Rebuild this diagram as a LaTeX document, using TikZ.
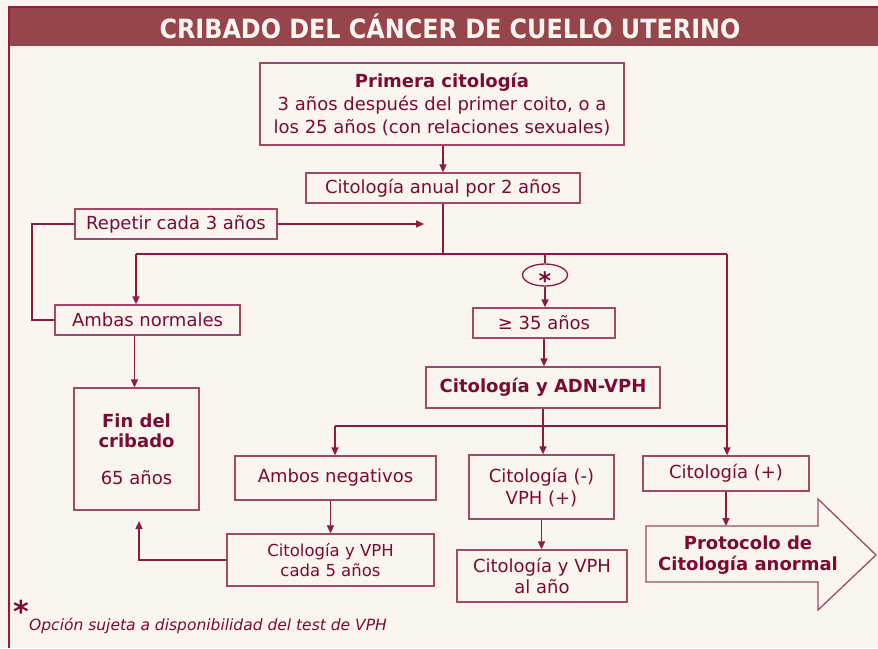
\documentclass[tikz,border=0pt]{standalone}
\usepackage{fontspec}
\setmainfont{DejaVu Sans}
\newfontfamily\titlefont[FakeStretch=0.9]{DejaVu Sans}
\usetikzlibrary{arrows.meta,shapes.geometric}
\definecolor{bg}{HTML}{FBF5F0}
\definecolor{bar}{HTML}{96464B}
\definecolor{frame}{HTML}{A0163D}
\definecolor{txt}{HTML}{7A0C33}
\definecolor{ln}{HTML}{8C1A42}
\definecolor{bx}{HTML}{A04A68}
\tikzset{
  box/.style={draw=bx, line width=1.3pt, inner sep=0pt, align=center, text=txt,
    font=\fontsize{18}{23}\selectfont},
  conn/.style={draw=ln, line width=1.4pt},
  arr/.style={conn, -{Triangle[length=8pt,width=7pt]}},
}
\begin{document}
\begin{tikzpicture}[x=1pt,y=-1pt]
\useasboundingbox (0,0) rectangle (878,648);
\fill[bg] (0,0) rectangle (878,648);
% frame and title
\fill[bar] (9,7) rectangle (878,46);
\draw[frame, line width=2pt] (9,648) -- (9,7) -- (878,7);
\node[anchor=base, inner sep=0pt, text=bg, font=\titlefont\bfseries\fontsize{26.5}{28}\selectfont] (title) at (450,38.5) {CRIBADO DEL CÁNCER DE CUELLO UTERINO};

% boxes
\node[box, minimum width=364pt, minimum height=82pt] (p) at (442,104)
  {{\bfseries Primera citología}\\3 años después del primer coito, o a\\los 25 años (con relaciones sexuales)};
\node[box, minimum width=274pt, minimum height=30pt] (anual) at (443,188) {Citología anual por 2 años};
\node[box, minimum width=202pt, minimum height=30pt] (rep) at (176,224) {Repetir cada 3 años};
\node[box, minimum width=185pt, minimum height=30pt] (amb) at (147.5,320) {Ambas normales};
\node[box, minimum width=125pt, minimum height=122pt, font=\fontsize{18}{20}\selectfont] (fin) at (136.5,449)
  {{\bfseries Fin del}\\{\bfseries cribado}\\[17pt]65 años};
\node[draw=ln, line width=1.3pt, ellipse, minimum width=45pt, minimum height=22pt, inner sep=0pt,
  text=txt, font=\bfseries\fontsize{24}{24}\selectfont] (ell) at (545,275) {\smash{\raisebox{-14pt}{*}}};
\node[box, minimum width=142pt, minimum height=30pt] (g35) at (544,323) {≥ 35 años};
\node[box, minimum width=234pt, minimum height=41pt, font=\bfseries\fontsize{18}{23}\selectfont] (adn) at (543,387.5) {Citología y ADN-VPH};
\node[box, minimum width=201pt, minimum height=44pt] (neg) at (335.5,478) {Ambos negativos};
\node[box, minimum width=145pt, minimum height=64pt, font=\fontsize{18}{22}\selectfont] (cvp) at (541.5,487) {Citología (-)\\VPH (+)};
\node[box, minimum width=170pt, minimum height=52pt, font=\fontsize{18}{21}\selectfont] (alano) at (542,576) {Citología y VPH\\al año};
\node[box, minimum width=166pt, minimum height=35pt] (cpos) at (726,473.5) {Citología (+)};
\node[box, minimum width=207pt, minimum height=52pt, font=\fontsize{16.5}{19.5}\selectfont] (c5) at (330.5,560) {Citología y VPH\\cada 5 años};

% big arrow
\coordinate (protTop) at (726,526);
\draw[bx, line width=1.3pt] (646,526) -- (818,526) -- (818,499) -- (876,555) -- (818,610) -- (818,582) -- (646,582) -- cycle;
\node[text=txt, align=center, font=\bfseries\fontsize{18}{20.5}\selectfont] (prot) at (748,555) {Protocolo de\\Citología anormal};

% connectors
\coordinate (hL) at (136,254);
\coordinate (hR) at (727,254);
\coordinate (repEnd) at (424,224);
\coordinate (lp) at (32,224);
\coordinate (h2L) at (335,426);
\coordinate (h2R) at (727,426);
\coordinate (finIn) at (139,521);

\draw[arr] (anual.north |- p.south) -- (anual.north);
\draw[conn] (anual.south) -- (anual.south |- hL);
\draw[conn] (hL) -- (hR);
\draw[arr] (hL) -- (hL |- amb.north);
\draw[arr] (hR) -- (hR |- cpos.north);
\draw[conn] (ell.north |- hL) -- (ell.north);
\draw[arr] (ell.south) -- (ell.south |- g35.north);
\draw[arr] (rep.east) -- (repEnd);
\draw[conn] (rep.west) -- (lp) -- (lp |- amb.west) -- (amb.west);
\draw[arr] ([xshift=-2pt]fin.north |- amb.south) -- ([xshift=-2pt]fin.north);
\draw[arr] (g35.south) -- (g35.south |- adn.north);
\draw[arr] (adn.south) -- (adn.south |- cvp.north);
\draw[conn] (h2L) -- (h2R);
\draw[arr] (h2L) -- (h2L |- neg.north);
\draw[arr] (c5.north |- neg.south) -- (c5.north);
\draw[arr] (cvp.south) -- (cvp.south |- alano.north);
\draw[arr] (cpos.south) -- (protTop);
\draw[arr] (c5.west) -| (finIn);

% footnote
\node[text=txt, font=\bfseries\fontsize{30}{30}\selectfont] (star) at (21,611) {*};
\node[anchor=west, inner sep=0pt, text=txt, font=\itshape\fontsize{15.5}{17}\selectfont] (note) at (29,626) {Opción sujeta a disponibilidad del test de VPH};
\end{tikzpicture}
\end{document}
